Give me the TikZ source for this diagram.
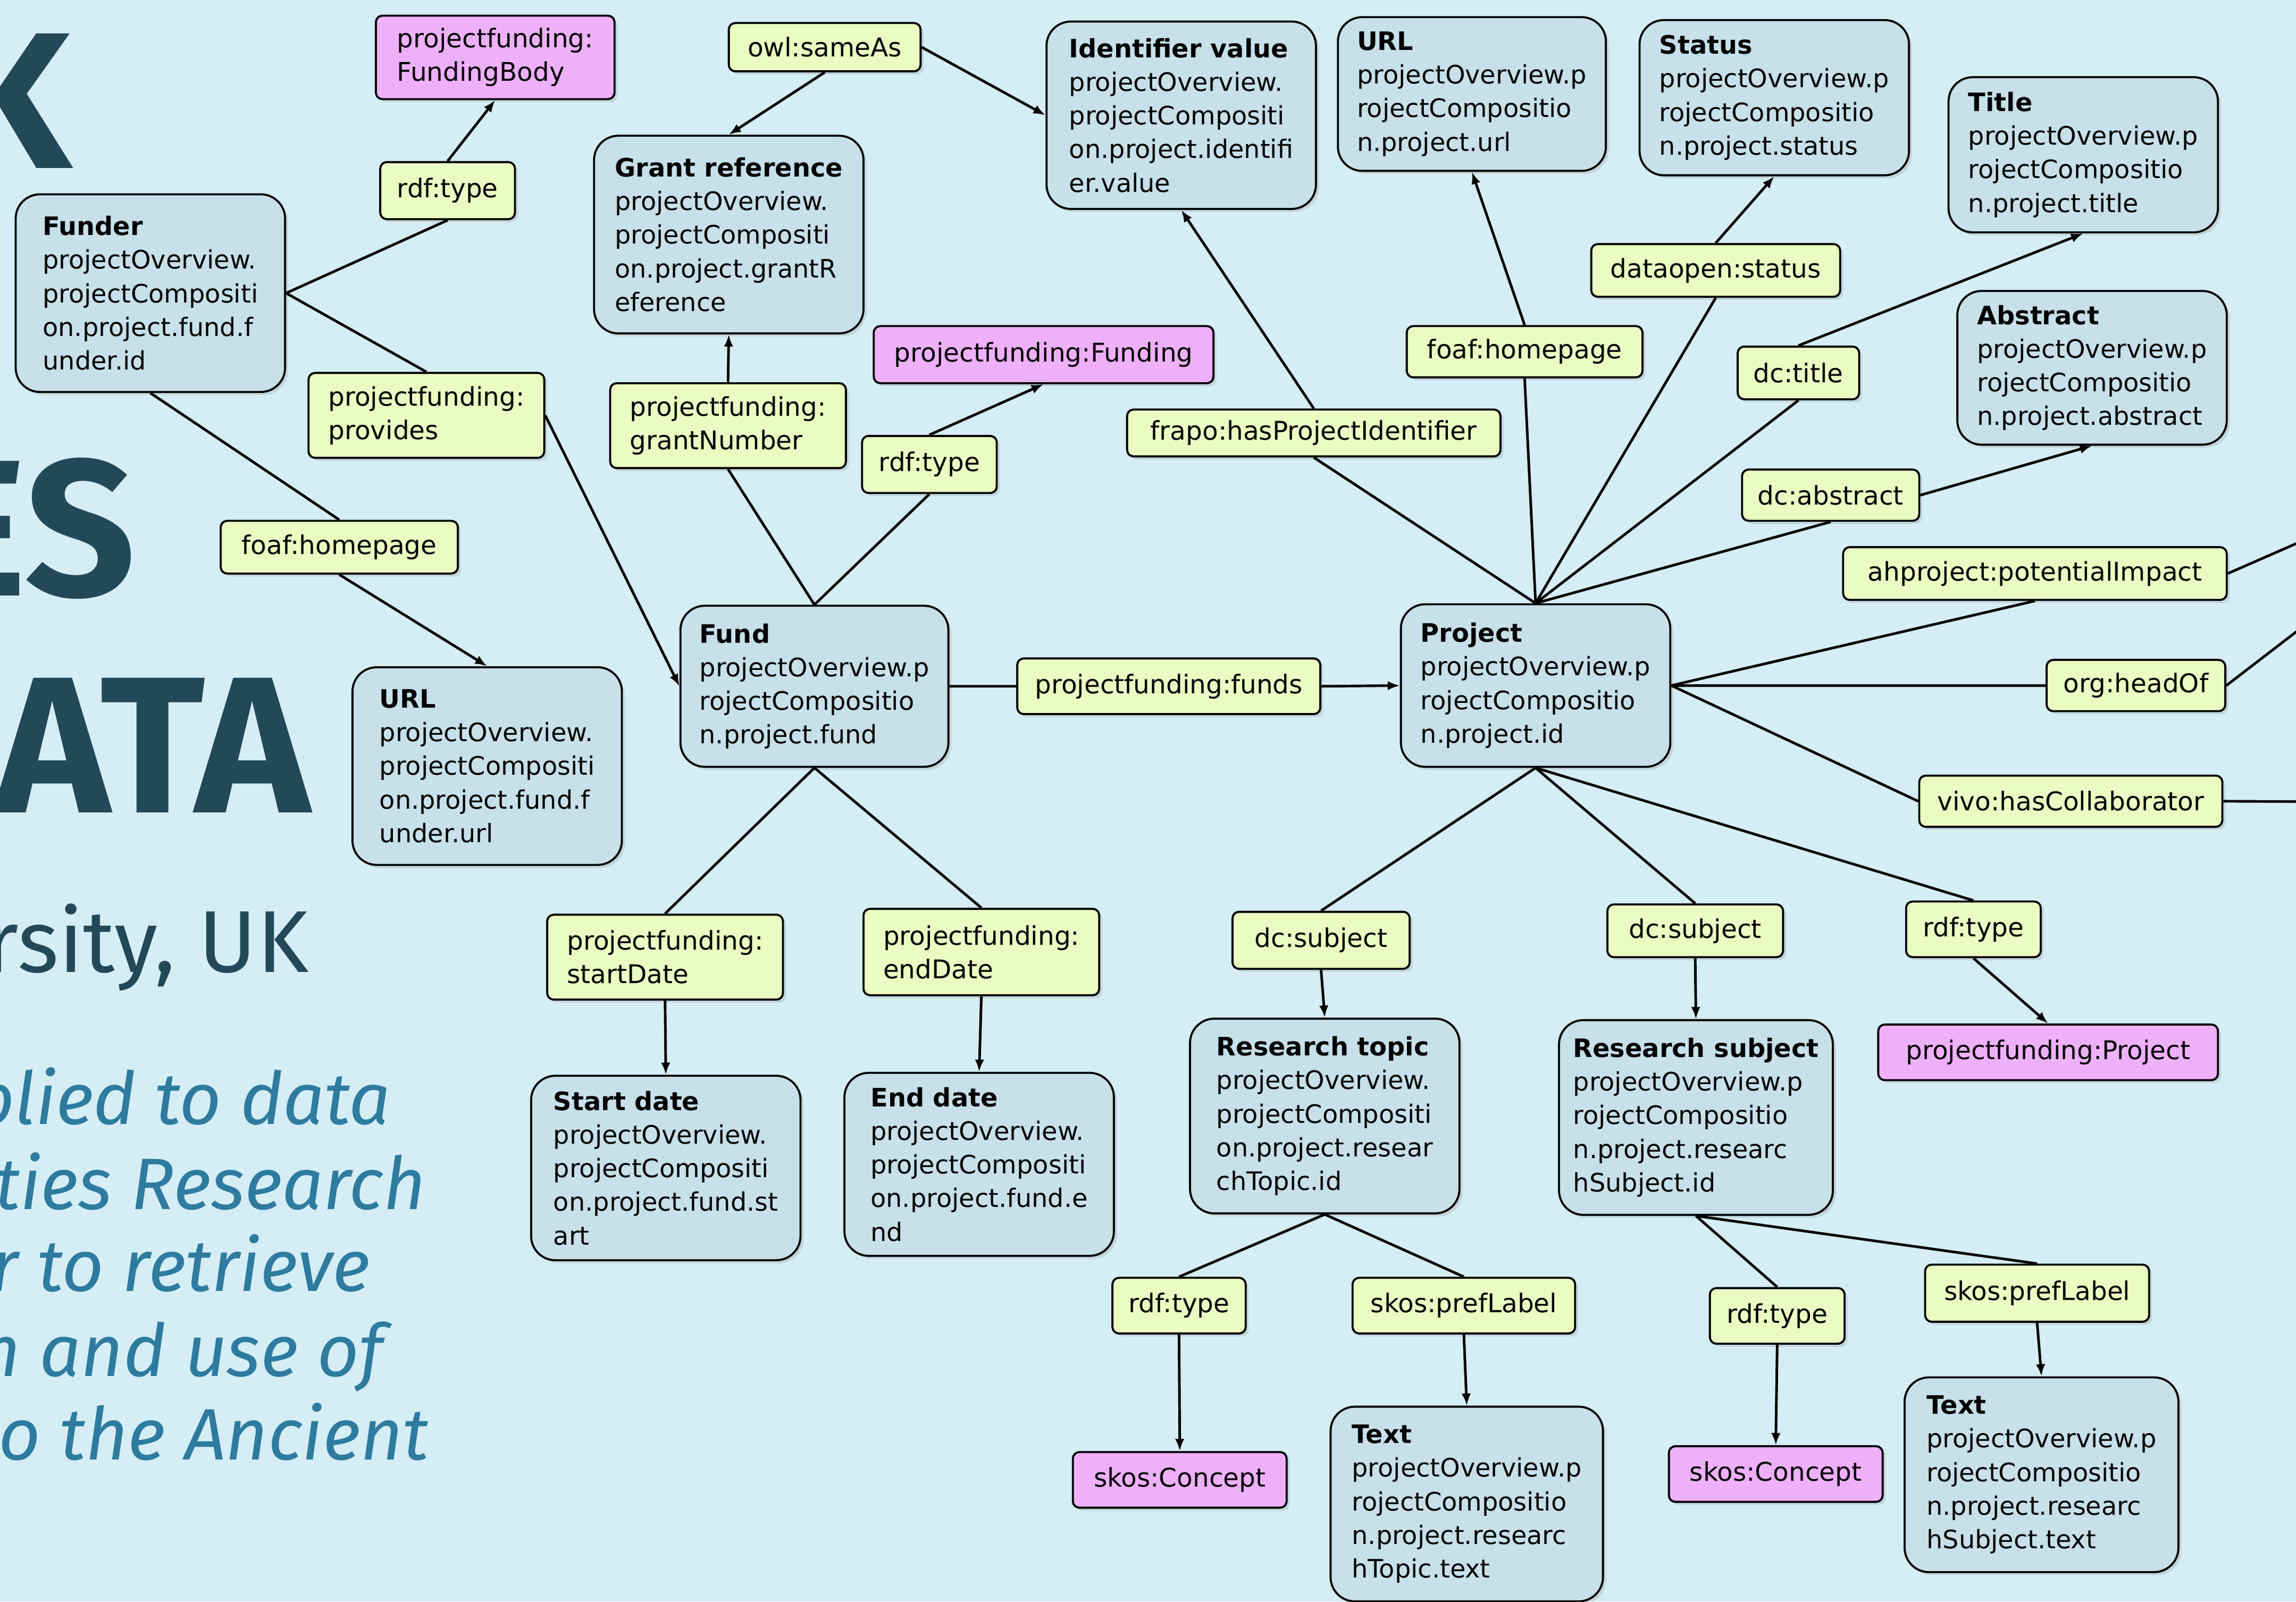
\documentclass[tikz,border=0pt]{standalone}
\usepackage{fontspec}
\setmainfont{DejaVu Sans}
\newfontfamily\titlefont{Fira Sans}
\usetikzlibrary{shadows,arrows.meta}
\definecolor{bgc}{RGB}{213,237,245}
\definecolor{entfill}{RGB}{199,224,234}
\definecolor{lblfill}{RGB}{235,252,194}
\definecolor{clsfill}{RGB}{238,176,250}
\definecolor{titlec}{RGB}{35,73,89}
\definecolor{italc}{RGB}{46,123,160}
\begin{document}
\begin{tikzpicture}[x=0.027538cm, y=-0.027538cm,
  sz/.style 2 args={minimum width=#1*0.7836pt, minimum height=#2*0.7836pt},
  shad/.style={drop shadow={shadow xshift=1.6pt, shadow yshift=-1.6pt, opacity=0.22}},
  ent/.style={draw=black, line width=1.1pt, fill=entfill, rounded corners=13pt, anchor=north west, align=left, inner sep=0pt, font=\fontsize{13.6}{18}\selectfont, shad},
  lbl/.style={draw=black, line width=1.1pt, fill=lblfill, rounded corners=3.5pt, anchor=north west, align=left, inner sep=0pt, font=\fontsize{13.8}{18}\selectfont, shad},
  cls/.style={lbl, fill=clsfill},
  big/.style={anchor=base east, inner sep=0pt, text=titlec, font=\titlefont\bfseries\fontsize{104}{104}\selectfont},
  sub/.style={anchor=base east, inner sep=0pt, text=titlec, font=\titlefont\fontsize{47}{47}\selectfont},
  ital/.style={anchor=base east, inner sep=0pt, text=italc, font=\titlefont\itshape\fontsize{39}{39}\selectfont},
  edge/.style={line width=1.4pt, draw=black},
  arr/.style={edge, -{Latex[length=6.5pt,width=5pt]}}
]
\fill[bgc] (0,0) rectangle (1568,1093.76);
\useasboundingbox (0,0) rectangle (1568,1093.76);

% title fragments
\node[big] (tK) at (49,115) {K};
\node[big] (tES) at (93,407) {ES};
\node[big] (tATA) at (212,555) {ATA};
\node[sub] (tUK) at (211,664) {rsity, UK};
\node[ital] (i1) at (267,768) {plied to data};
\node[ital] (i2) at (291,826) {ities Research};
\node[ital] (i3) at (253,882) {er to retrieve};
\node[ital] (i4) at (262,940) {n and use of};
\node[ital] (i5) at (293,997) {to the Ancient};

% entity boxes
\node[ent, sz={184}{135}] (funder) at (10,132) {\textbf{Funder}\\projectOverview.\\projectCompositi\\on.project.fund.f\\under.id};
\node[ent, sz={184}{135}] (furl) at (240,455) {\textbf{URL}\\projectOverview.\\projectCompositi\\on.project.fund.f\\under.url};
\node[ent, sz={184}{135}] (grantref) at (405,92) {\textbf{Grant reference}\\projectOverview.\\projectCompositi\\on.project.grantR\\eference};
\node[ent, sz={184}{128}] (idval) at (714,14) {\textbf{Identifier value}\\projectOverview.\\projectCompositi\\on.project.identifi\\er.value};
\node[ent, sz={183}{105}] (purl) at (913,11) {\textbf{URL}\\projectOverview.p\\rojectCompositio\\n.project.url};
\node[ent, sz={184}{106}] (status) at (1119,13) {\textbf{Status}\\projectOverview.p\\rojectCompositio\\n.project.status};
\node[ent, sz={184}{106}] (title) at (1330,52) {\textbf{Title}\\projectOverview.p\\rojectCompositio\\n.project.title};
\node[ent, sz={184}{105}] (abstract) at (1336,198) {\textbf{Abstract}\\projectOverview.p\\rojectCompositio\\n.project.abstract};
\node[ent, sz={183}{110}] (fund) at (464,413) {\textbf{Fund}\\projectOverview.p\\rojectCompositio\\n.project.fund};
\node[ent, sz={184}{111}] (project) at (956,412) {\textbf{Project}\\projectOverview.p\\rojectCompositio\\n.project.id};
\node[ent, sz={184}{126}] (start) at (362,734) {\textbf{Start date}\\projectOverview.\\projectCompositi\\on.project.fund.st\\art};
\node[ent, sz={184}{125}] (end) at (576,732) {\textbf{End date}\\projectOverview.\\projectCompositi\\on.project.fund.e\\nd};
\node[ent, sz={184}{133}] (rtopic) at (812,695) {\textbf{Research topic}\\projectOverview.\\projectCompositi\\on.project.resear\\chTopic.id};
\node[ent, sz={187}{133}] (rsubj) at (1064,696) {\textbf{Research subject}\\projectOverview.p\\rojectCompositio\\n.project.researc\\hSubject.id};
\node[ent, sz={186}{133}] (ttext) at (908,960) {\textbf{Text}\\projectOverview.p\\rojectCompositio\\n.project.researc\\hTopic.text};
\node[ent, sz={187}{133}] (stext) at (1300,940) {\textbf{Text}\\projectOverview.p\\rojectCompositio\\n.project.researc\\hSubject.text};

% class boxes
\node[cls, sz={163}{57}] (fundingbody) at (256,10) {projectfunding:\\FundingBody};
\node[cls, sz={232}{39}] (funding) at (596,222) {projectfunding:Funding};
\node[cls, sz={232}{38}] (pfproject) at (1282,699) {projectfunding:Project};
\node[cls, sz={146}{38}] (concept1) at (732,991) {skos:Concept};
\node[cls, sz={146}{38}] (concept2) at (1139,987) {skos:Concept};

% property labels
\node[lbl, sz={92}{39}] (rdftype1) at (259,110) {rdf:type};
\node[lbl, sz={161}{58}] (provides) at (210,254) {projectfunding:\\provides};
\node[lbl, sz={162}{36}] (foafhp1) at (150,355) {foaf:homepage};
\node[lbl, sz={131}{33}] (sameas) at (497,15) {owl:sameAs};
\node[lbl, sz={161}{58}] (grantnum) at (416,261) {projectfunding:\\grantNumber};
\node[lbl, sz={92}{39}] (rdftype2) at (588,297) {rdf:type};
\node[lbl, sz={207}{38}] (funds) at (694,449) {projectfunding:funds};
\node[lbl, sz={255}{32}] (frapo) at (769,279) {frapo:hasProjectIdentifier};
\node[lbl, sz={161}{35}] (foafhp2) at (960,222) {foaf:homepage};
\node[lbl, sz={170}{36}] (dostatus) at (1086,166) {dataopen:status};
\node[lbl, sz={83}{36}] (dctitle) at (1186,236) {dc:title};
\node[lbl, sz={121}{35}] (dcabstract) at (1189,320) {dc:abstract};
\node[lbl, sz={262}{36}] (impact) at (1258,373) {ahproject:potentialImpact};
\node[lbl, sz={122}{35}] (headof) at (1397,450) {org:headOf};
\node[lbl, sz={207}{35}] (collab) at (1310,529) {vivo:hasCollaborator};
\node[lbl, sz={161}{58}] (startdate) at (373,624) {projectfunding:\\startDate};
\node[lbl, sz={161}{59}] (enddate) at (589,620) {projectfunding:\\endDate};
\node[lbl, sz={121}{39}] (dcsubj1) at (841,622) {dc:subject};
\node[lbl, sz={120}{36}] (dcsubj2) at (1097,617) {dc:subject};
\node[lbl, sz={92}{38}] (rdftype3) at (1301,615) {rdf:type};
\node[lbl, sz={91}{38}] (rdftype4) at (759,872) {rdf:type};
\node[lbl, sz={152}{38}] (preflabel1) at (923,872) {skos:prefLabel};
\node[lbl, sz={92}{38}] (rdftype5) at (1167,879) {rdf:type};
\node[lbl, sz={153}{39}] (preflabel2) at (1314,863) {skos:prefLabel};

% free ends leaving the picture
\coordinate (offA) at (1600,357.3);
\coordinate (offB) at (1600,407);
\coordinate (offC) at (1600,547.6);

% connectors
\draw[edge] (funder.east) -- (rdftype1.south);
\draw[arr] (rdftype1.north) -- (fundingbody.south);
\draw[edge] (funder.east) -- (provides.north);
\draw[arr] (provides.east) -- (fund.west);
\draw[edge] (funder.south) -- (foafhp1.north);
\draw[arr] (foafhp1.south) -- (furl.north);

\draw[edge] (fund.north) -- (grantnum.south);
\draw[arr] (grantnum.north) -- (grantref.south);
\draw[edge] (fund.north) -- (rdftype2.south);
\draw[arr] (rdftype2.north) -- (funding.south);
\draw[edge] (fund.east) -- (funds.west);
\draw[arr] (funds.east) -- (project.west);
\draw[edge] (fund.south) -- (startdate.north);
\draw[arr] (startdate.south) -- (start.north);
\draw[edge] (fund.south) -- (enddate.north);
\draw[arr] (enddate.south) -- (end.north);

\draw[arr] (sameas.south) -- (grantref.north);
\draw[arr] (sameas.east) -- (idval.west);

\draw[edge] (project.north) -- (frapo.south);
\draw[arr] (frapo.north) -- (idval.south);
\draw[edge] (project.north) -- (foafhp2.south);
\draw[arr] (foafhp2.north) -- (purl.south);
\draw[edge] (project.north) -- (dostatus.south);
\draw[arr] (dostatus.north) -- (status.south);
\draw[edge] (project.north) -- (dctitle.south);
\draw[arr] (dctitle.north) -- (title.south);
\draw[edge] (project.north) -- (dcabstract.south);
\draw[arr] (dcabstract.east) -- (abstract.south);

\draw[edge] (project.east) -- (impact.south);
\draw[edge] (impact.east) -- (offA);
\draw[edge] (project.east) -- (headof.west);
\draw[edge] (headof.east) -- (offB);
\draw[edge] (project.east) -- (collab.west);
\draw[edge] (collab.east) -- (offC);

\draw[edge] (project.south) -- (dcsubj1.north);
\draw[arr] (dcsubj1.south) -- (rtopic.north);
\draw[edge] (project.south) -- (dcsubj2.north);
\draw[arr] (dcsubj2.south) -- (rsubj.north);
\draw[edge] (project.south) -- (rdftype3.north);
\draw[arr] (rdftype3.south) -- (pfproject.north);

\draw[edge] (rtopic.south) -- (rdftype4.north);
\draw[arr] (rdftype4.south) -- (concept1.north);
\draw[edge] (rtopic.south) -- (preflabel1.north);
\draw[arr] (preflabel1.south) -- (ttext.north);
\draw[edge] (rsubj.south) -- (rdftype5.north);
\draw[arr] (rdftype5.south) -- (concept2.north);
\draw[edge] (rsubj.south) -- (preflabel2.north);
\draw[arr] (preflabel2.south) -- (stext.north);
\end{tikzpicture}
\end{document}
